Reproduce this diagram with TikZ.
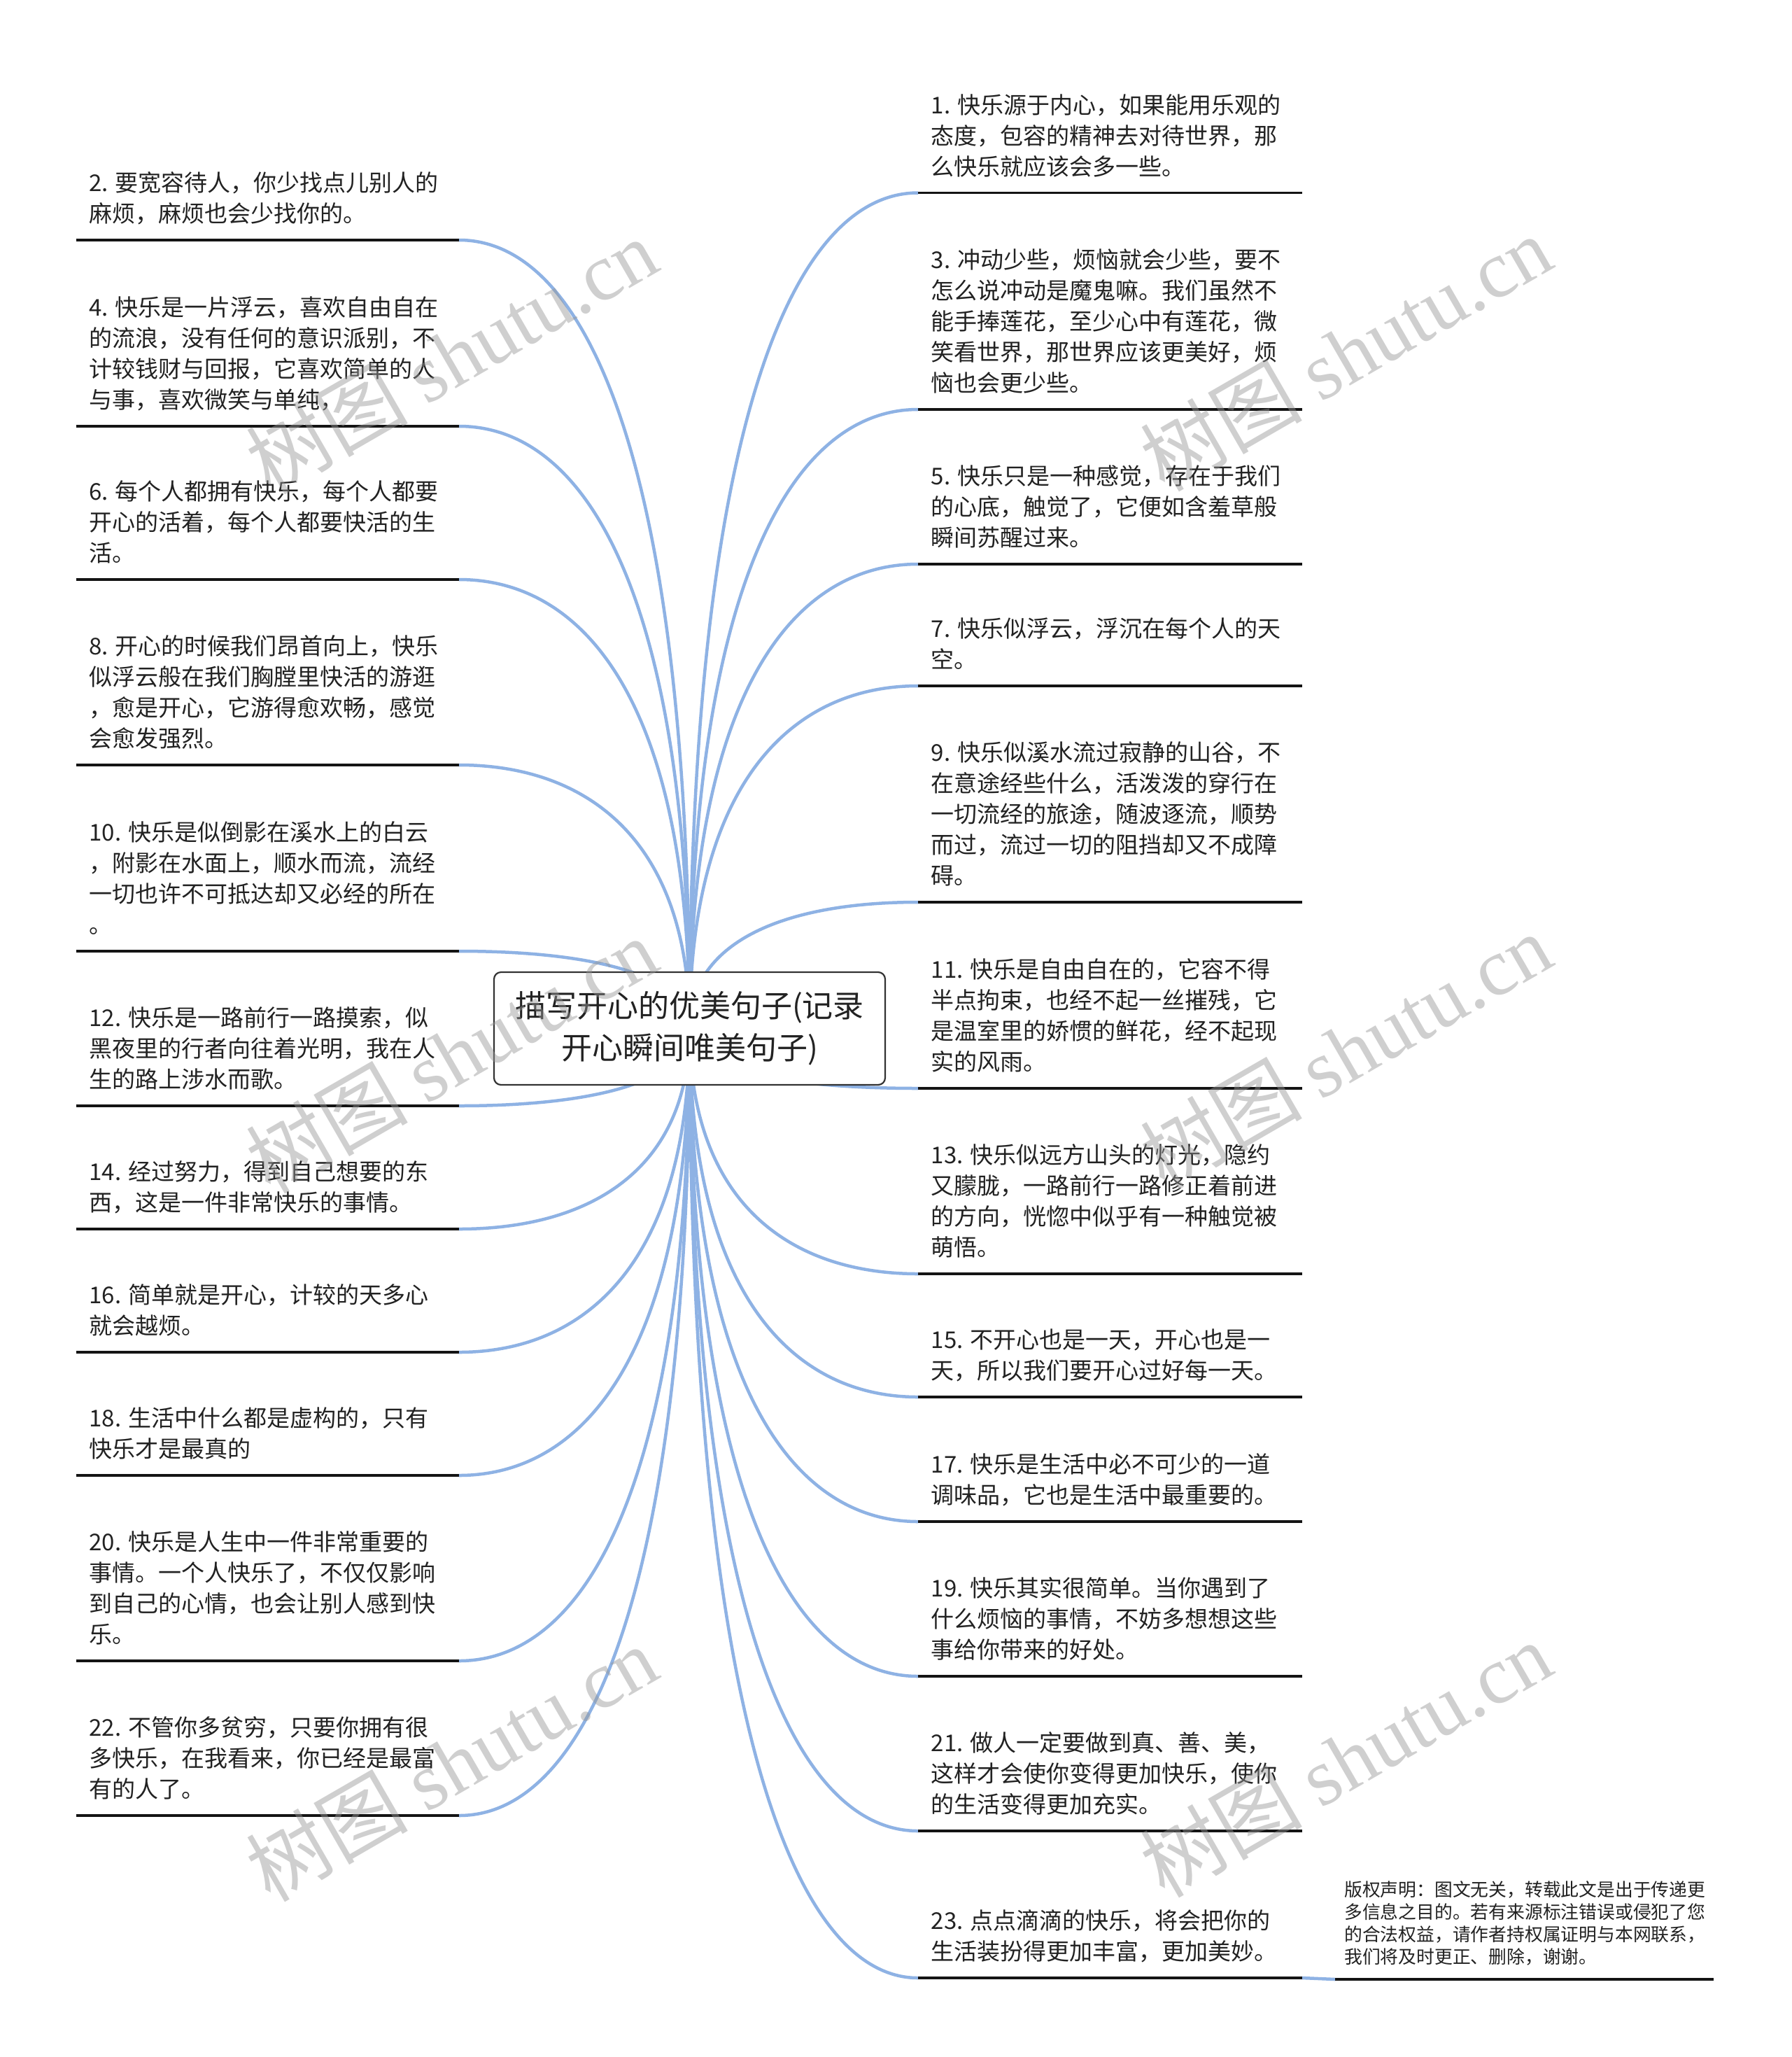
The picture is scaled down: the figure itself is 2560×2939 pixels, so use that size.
\documentclass[tikz,border=0pt]{standalone}
\usepackage{fontspec}
\setmainfont{Noto Sans CJK SC}
\newfontfamily\wmserif{Liberation Serif}
\usetikzlibrary{calc}
\pgfdeclarelayer{paper}
\pgfdeclarelayer{links}
\pgfsetlayers{paper,links,main}
\definecolor{conncol}{RGB}{142,178,228}
\definecolor{txtcol}{RGB}{34,34,34}
\definecolor{wmcol}{RGB}{150,150,150}
\newcommand\lstrut{\rule[-10pt]{0pt}{10pt}}
\tikzset{
  leaftext/.style={inner sep=0pt, align=left, text=txtcol, font=\fontsize{33pt}{44pt}\selectfont},
  cptext/.style={inner sep=0pt, align=left, text=txtcol, font=\fontsize{25.8pt}{32pt}\selectfont},
  uline/.style={line width=3.6pt, black!92},
  conn/.style={line width=4.5pt, conncol},
  rootbox/.style={draw=black!80, line width=2.2pt, rounded corners=10pt, fill=white,
    minimum width=559pt, minimum height=161pt, inner sep=0pt, align=center,
    text=txtcol, font=\fontsize{44pt}{60pt}\selectfont},
  wm/.style={text=wmcol, text opacity=0.45, inner sep=0pt, font=\fontsize{116pt}{120pt}\selectfont}
}
\newcommand\linkto[1]{%
  \begin{pgfonlayer}{links}
  \draw[conn] (root.center) .. controls ($(root.center)!0.72!(root.center |- #1)$) and ($(#1)!0.55!(root.center |- #1)$) .. (#1);
  \end{pgfonlayer}}
% left leaf: name, underline y, text
\newcommand\leafL[3]{%
  \node[leaftext, anchor=south west] (t#1) at (127.4,{#2-15}) {#3\lstrut};
  \coordinate (s#1) at (108.7,#2);
  \coordinate (e#1) at (656,#2);
  \draw[uline] (s#1) -- (e#1);
  \linkto{e#1}}
% right leaf
\newcommand\leafR[3]{%
  \node[leaftext, anchor=south west] (t#1) at (1330.6,{#2-15}) {#3\lstrut};
  \coordinate (s#1) at (1312,#2);
  \coordinate (e#1) at (1861,#2);
  \draw[uline] (s#1) -- (e#1);
  \linkto{s#1}}
\begin{document}
\begin{tikzpicture}[x=1pt,y=-1pt]
\useasboundingbox (0,0) rectangle (2560,2939);
\begin{pgfonlayer}{paper}
\fill[white] (0,0) rectangle (2560,2939);
\end{pgfonlayer}

\node[rootbox] (root) at (985.5,1469.5) {描写开心的优美句子(记录\\开心瞬间唯美句子)};

% right side
\leafR{1}{275.5}{1. 快乐源于内心，如果能用乐观的\\态度，包容的精神去对待世界，那\\么快乐就应该会多一些。}
\leafR{3}{585}{3. 冲动少些，烦恼就会少些，要不\\怎么说冲动是魔鬼嘛。我们虽然不\\能手捧莲花，至少心中有莲花，微\\笑看世界，那世界应该更美好，烦\\恼也会更少些。}
\leafR{5}{806}{5. 快乐只是一种感觉，存在于我们\\的心底，触觉了，它便如含羞草般\\瞬间苏醒过来。}
\leafR{7}{980}{7. 快乐似浮云，浮沉在每个人的天\\空。}
\leafR{9}{1289}{9. 快乐似溪水流过寂静的山谷，不\\在意途经些什么，活泼泼的穿行在\\一切流经的旅途，随波逐流，顺势\\而过，流过一切的阻挡却又不成障\\碍。}
\leafR{11}{1555}{11. 快乐是自由自在的，它容不得\\半点拘束，也经不起一丝摧残，它\\是温室里的娇惯的鲜花，经不起现\\实的风雨。}
\leafR{13}{1820}{13. 快乐似远方山头的灯光，隐约\\又朦胧，一路前行一路修正着前进\\的方向，恍惚中似乎有一种触觉被\\萌悟。}
\leafR{15}{1996}{15. 不开心也是一天，开心也是一\\天，所以我们要开心过好每一天。}
\leafR{17}{2174}{17. 快乐是生活中必不可少的一道\\调味品，它也是生活中最重要的。}
\leafR{19}{2395}{19. 快乐其实很简单。当你遇到了\\什么烦恼的事情，不妨多想想这些\\事给你带来的好处。}
\leafR{21}{2616}{21. 做人一定要做到真、善、美，\\这样才会使你变得更加快乐，使你\\的生活变得更加充实。}
\leafR{23}{2826}{23. 点点滴滴的快乐，将会把你的\\生活装扮得更加丰富，更加美妙。}

% left side
\leafL{2}{343}{2. 要宽容待人，你少找点儿别人的\\麻烦，麻烦也会少找你的。}
\leafL{4}{609}{4. 快乐是一片浮云，喜欢自由自在\\的流浪，没有任何的意识派别，不\\计较钱财与回报，它喜欢简单的人\\与事，喜欢微笑与单纯，}
\leafL{6}{828}{6. 每个人都拥有快乐，每个人都要\\开心的活着，每个人都要快活的生\\活。}
\leafL{8}{1093}{8. 开心的时候我们昂首向上，快乐\\似浮云般在我们胸膛里快活的游逛\\，愈是开心，它游得愈欢畅，感觉\\会愈发强烈。}
\leafL{10}{1359}{10. 快乐是似倒影在溪水上的白云\\，附影在水面上，顺水而流，流经\\一切也许不可抵达却又必经的所在\\。}
\leafL{12}{1580}{12. 快乐是一路前行一路摸索，似\\黑夜里的行者向往着光明，我在人\\生的路上涉水而歌。}
\leafL{14}{1756}{14. 经过努力，得到自己想要的东\\西，这是一件非常快乐的事情。}
\leafL{16}{1932}{16. 简单就是开心，计较的天多心\\就会越烦。}
\leafL{18}{2108}{18. 生活中什么都是虚构的，只有\\快乐才是最真的}
\leafL{20}{2373}{20. 快乐是人生中一件非常重要的\\事情。一个人快乐了，不仅仅影响\\到自己的心情，也会让别人感到快\\乐。}
\leafL{22}{2594}{22. 不管你多贫穷，只要你拥有很\\多快乐，在我看来，你已经是最富\\有的人了。}

% copyright note
\node[cptext, anchor=south west] (cp) at (1921,2813.5) {版权声明：图文无关，转载此文是出于传递更\\多信息之目的。若有来源标注错误或侵犯了您\\的合法权益，请作者持权属证明与本网联系，\\我们将及时更正、删除，谢谢。\rule[-8pt]{0pt}{8pt}};
\coordinate (cps) at (1908,2828);
\coordinate (cpe) at (2449,2828);
\draw[uline] (cps) -- (cpe);
\begin{pgfonlayer}{links}
\draw[conn] (e23) -- (cps);
\end{pgfonlayer}

% watermarks
\node[wm, rotate=30] (wm1) at (645,508) {树图 {\wmserif shutu.cn}};
\node[wm, rotate=30] (wm2) at (1923,504) {树图 {\wmserif shutu.cn}};
\node[wm, rotate=30] (wm3) at (645,1507) {树图 {\wmserif shutu.cn}};
\node[wm, rotate=30] (wm4) at (1923,1501) {树图 {\wmserif shutu.cn}};
\node[wm, rotate=30] (wm5) at (645,2519) {树图 {\wmserif shutu.cn}};
\node[wm, rotate=30] (wm6) at (1923,2513) {树图 {\wmserif shutu.cn}};
\end{tikzpicture}
\end{document}
